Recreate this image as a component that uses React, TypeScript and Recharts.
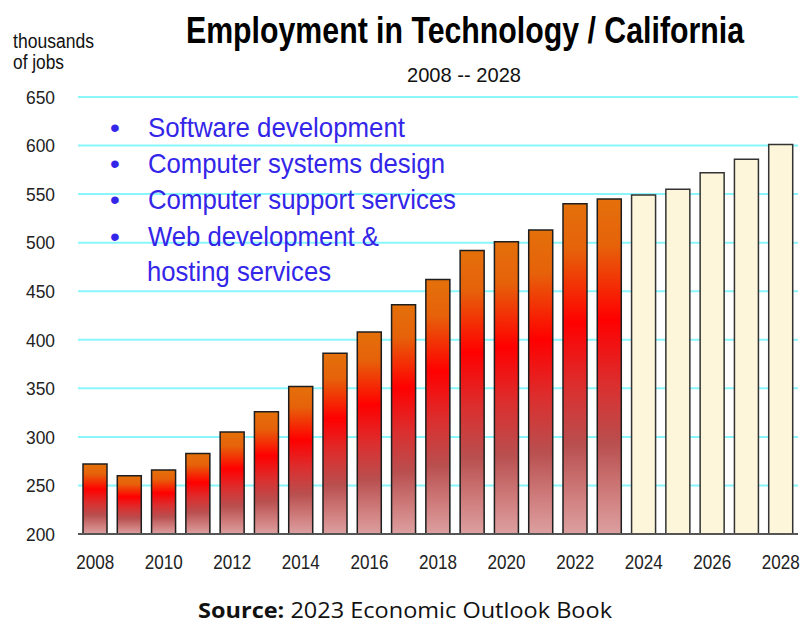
import React from "react";
import { Bar, BarChart, CartesianGrid, Cell, XAxis, YAxis } from "recharts";

const years = [
  "2008", "2009", "2010", "2011", "2012", "2013", "2014", "2015", "2016", "2017", "2018",
  "2019", "2020", "2021", "2022", "2023", "2024", "2025", "2026", "2027", "2028",
];
// thousands of jobs
const employment = [
  272, 260, 266, 283, 305, 326, 352, 386, 408, 436, 462,
  492, 501, 513, 540, 545, 549, 555, 572, 586, 601,
];
const firstProjectedYear = 2024;
const yTicks = [200, 250, 300, 350, 400, 450, 500, 550, 600, 650];
const sectors = [
  "Software development",
  "Computer systems design",
  "Computer support services",
  "Web development &",
];
const sectorsTail = "hosting services";

const data = years.map((year, i) => ({ year, jobs: employment[i] }));

const sans = "'Liberation Sans', Arial, sans-serif";
const blue = "#3326e8";

// the source picture is slightly condensed, so labels get squeezed to its widths
const XTick = ({ x, y, payload }: any) => (
  <text
    x={x}
    y={y}
    dy="0.71em"
    textAnchor="middle"
    fontFamily={sans}
    fontSize={20}
    textLength={38}
    lengthAdjust="spacingAndGlyphs"
    fill="#222"
  >
    {payload.value}
  </text>
);

const YTick = ({ x, y, payload }: any) => (
  <text
    x={x}
    y={y}
    dy="0.355em"
    textAnchor="end"
    fontFamily={sans}
    fontSize={19}
    textLength={29}
    lengthAdjust="spacingAndGlyphs"
    fill="#222"
  >
    {payload.value}
  </text>
);

const sectorWidths = [257, 297, 308, 231];

export default function App() {
  return (
    <div style={{ position: "absolute", left: 0, top: 0, width: 810, height: 638, background: "#fff" }}>
      <BarChart
        width={810}
        height={638}
        data={data}
        margin={{ top: 97, right: 12, bottom: 74, left: 0 }}
        barSize={24}
      >
        <defs>
          <linearGradient id="redGrad" x1="0" y1="0" x2="0" y2="1">
            <stop offset="0" stopColor="#e4700a" />
            <stop offset="0.14" stopColor="#e6620a" />
            <stop offset="0.36" stopColor="#ff0000" />
            <stop offset="0.55" stopColor="#dc2e2e" />
            <stop offset="0.73" stopColor="#b94f4f" />
            <stop offset="0.9" stopColor="#d28282" />
            <stop offset="1" stopColor="#dca0a0" />
          </linearGradient>
        </defs>
        <CartesianGrid vertical={false} stroke="#88f6fb" strokeWidth={2} />
        <XAxis
          dataKey="year"
          interval={1}
          tickLine={false}
          tickSize={0}
          tickMargin={21}
          axisLine={{ stroke: "#555", strokeWidth: 2 }}
          tick={<XTick />}
        />
        <YAxis
          width={78}
          domain={[200, 650]}
          ticks={yTicks}
          allowDataOverflow
          axisLine={false}
          tickLine={false}
          tickSize={0}
          tickMargin={23}
          tick={<YTick />}
        />
        <Bar dataKey="jobs" stroke="#1e1e1e" strokeWidth={1.5} isAnimationActive={false}>
          {data.map((d) => (
            <Cell
              key={d.year}
              fill={Number(d.year) >= firstProjectedYear ? "#fdf6da" : "url(#redGrad)"}
              stroke={Number(d.year) >= firstProjectedYear ? "#333" : "#1e1e1e"}
            />
          ))}
        </Bar>
      </BarChart>
      <svg
        width={810}
        height={638}
        style={{ position: "absolute", left: 0, top: 0, pointerEvents: "none" }}
      >
        <text
          x={186}
          y={43}
          fontFamily={sans}
          fontWeight="bold"
          fontSize={36}
          textLength={558}
          lengthAdjust="spacingAndGlyphs"
          fill="#000"
        >
          Employment in Technology / California
        </text>
        <text x={407} y={81.5} fontFamily={sans} fontSize={21} textLength={114} lengthAdjust="spacingAndGlyphs" fill="#111">
          2008 -- 2028
        </text>
        <text x={13} y={48} fontFamily={sans} fontSize={20} textLength={81} lengthAdjust="spacingAndGlyphs" fill="#111">
          thousands
        </text>
        <text x={13} y={69} fontFamily={sans} fontSize={20} textLength={51} lengthAdjust="spacingAndGlyphs" fill="#111">
          of jobs
        </text>
        {sectors.map((s, i) => (
          <g key={s}>
            <text x={115} y={137 + i * 36.2} textAnchor="middle" fontFamily={sans} fontSize={28} fill={blue}>
              •
            </text>
            <text
              x={148}
              y={137 + i * 36.2}
              fontFamily={sans}
              fontSize={28}
              textLength={sectorWidths[i]}
              lengthAdjust="spacingAndGlyphs"
              fill={blue}
            >
              {s}
            </text>
          </g>
        ))}
        <text x={147} y={281} fontFamily={sans} fontSize={28} textLength={184} lengthAdjust="spacingAndGlyphs" fill={blue}>
          {sectorsTail}
        </text>
        <text
          x={198}
          y={618}
          fontFamily="'Open Sans', 'Noto Sans', sans-serif"
          fontSize={21}
          textLength={414}
          lengthAdjust="spacingAndGlyphs"
          fill="#111"
        >
          <tspan fontWeight="bold">Source:</tspan>
          <tspan> 2023 Economic Outlook Book</tspan>
        </text>
      </svg>
    </div>
  );
}
